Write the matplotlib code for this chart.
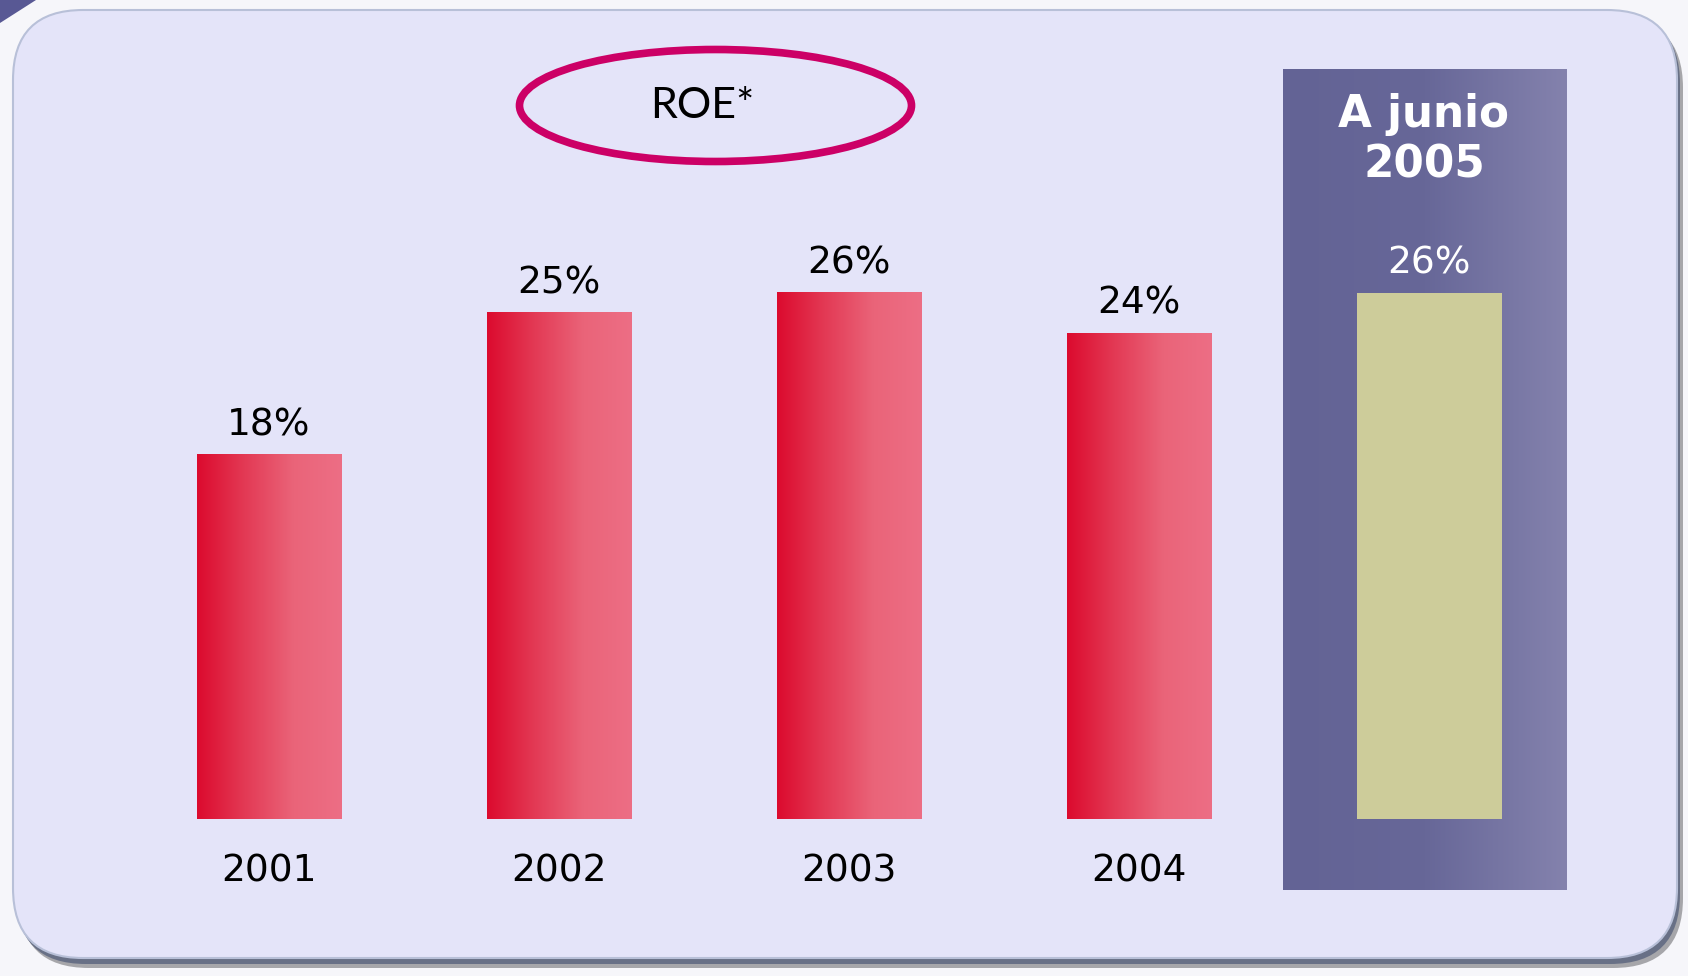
import numpy as np
import matplotlib.pyplot as plt
from matplotlib.patches import FancyBboxPatch, Ellipse, Polygon
from matplotlib.colors import LinearSegmentedColormap

# ------------------------------------------
# Data
# ------------------------------------------
years = ['2001', '2002', '2003', '2004']
roe = [18, 25, 26, 24]
ytd_label = ['A junio', '2005']
ytd_roe = 26
title = 'ROE*'

# ------------------------------------------
# Figure in pixel units
# ------------------------------------------
W, H = 1688, 976
fig = plt.figure(figsize=(W / 100, H / 100), dpi=100)
fig.patch.set_facecolor('#f6f6fa')

bg = fig.add_axes([0, 0, 1, 1])
bg.axis('off')

def set_px_limits():
    bg.set_xlim(0, W)
    bg.set_ylim(H, 0)

set_px_limits()

# little purple corner from the slide behind
bg.add_patch(Polygon([(0, 0), (36, 0), (0, 23)], closed=True, fc='#585894', ec='none'))

# panel with shadow
box = 'round,pad=0,rounding_size=70'
bg.add_patch(FancyBboxPatch((19, 18), 1664, 950, boxstyle=box, fc='#a6a6aa', ec='none'))
bg.add_patch(FancyBboxPatch((16, 14), 1664, 950, boxstyle=box, fc='#687086', ec='none'))
bg.add_patch(FancyBboxPatch((13, 10), 1664, 948, boxstyle=box, fc='#e4e4f9', ec='#b8c0d8', lw=1.5))

# purple "A junio 2005" box with horizontal gradient
purple = LinearSegmentedColormap.from_list('purple', ['#636395', '#676798', '#8482ad'])
grad = np.linspace(0, 1, 256).reshape(1, -1)
bg.imshow(grad, cmap=purple, extent=(1283, 1567, 890, 69), aspect='auto', zorder=1)
set_px_limits()

bg.text(1424, 127, ytd_label[0], color='white', fontsize=31.5, fontweight='bold',
        family='DejaVu Sans', ha='center', va='baseline', zorder=3)
bg.text(1424, 178, ytd_label[1], color='white', fontsize=31.5, fontweight='bold',
        family='DejaVu Sans', ha='center', va='baseline', zorder=3)

# title ellipse
bg.add_patch(Ellipse((715.5, 105.5), 392, 112, fill=False, ec='#cc0066', lw=5.5))
bg.text(702, 118, title, fontsize=31, family='Lato', color='black',
        ha='center', va='baseline')

# ------------------------------------------
# Bars
# ------------------------------------------
ax = fig.add_axes([124 / W, (H - 819) / H, 1450 / W, 607.5 / H])
ax.patch.set_alpha(0)
ax.axis('off')

red = LinearSegmentedColormap.from_list(
    'red', ['#dc0a2e', '#e33a55', '#ea6479', '#ed6e85'])

x = np.arange(len(years))
bars = ax.bar(x, roe, width=0.5, color='none', edgecolor='none')
for rect in bars:
    x0, w, h = rect.get_x(), rect.get_width(), rect.get_height()
    ax.imshow(grad, cmap=red, extent=(x0, x0 + w, 0, h), aspect='auto', zorder=2)

ytd_bar = ax.bar(len(years), ytd_roe, width=0.5, color='#cdcc9a', zorder=2)

ax.set_xlim(-0.5, len(years) + 0.5)
ax.set_ylim(0, 30)

px = 0.72  # points per pixel at dpi 100
for i, v in enumerate(roe):
    ax.annotate(f'{v}%', xy=(i, v), xytext=(0, 19 * px), textcoords='offset points',
                ha='center', va='baseline', fontsize=27, color='black')
    ax.annotate(years[i], xy=(i, 0), xytext=(0, -62 * px), textcoords='offset points',
                ha='center', va='baseline', fontsize=27, color='black')

ax.annotate(f'{ytd_roe}%', xy=(len(years), ytd_roe), xytext=(0, 19 * px),
            textcoords='offset points', ha='center', va='baseline',
            fontsize=27, color='white')

plt.savefig('out.png', dpi=100)
